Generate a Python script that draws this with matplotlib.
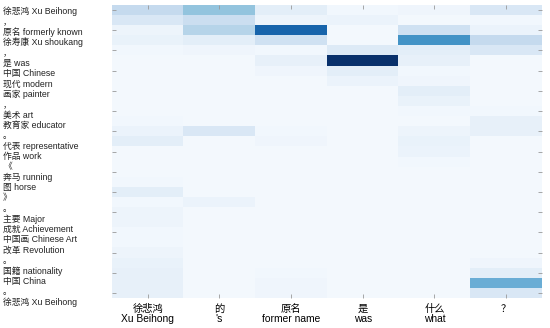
import numpy as np
import matplotlib
matplotlib.use("Agg")
import matplotlib.pyplot as plt

plt.rcParams['font.family'] = ['Liberation Sans', 'Noto Sans CJK SC', 'DejaVu Sans']

source_labels = [
    "徐悲鸿 Xu Beihong", "，", "原名 formerly known", "徐寿康 Xu shoukang", "，",
    "是 was", "中国 Chinese", "现代 modern", "画家 painter", "，",
    "美术 art", "教育家 educator", "。", "代表 representative", "作品 work",
    "《", "奔马 running", "图 horse", "》", "。",
    "主要 Major", "成就 Achievement", "中国画 Chinese Art", "改革 Revolution", "。",
    "国籍 nationality", "中国 China", "。", "徐悲鸿 Xu Beihong",
]

target_labels = ["徐悲鸿\nXu Beihong", "的\n's", "原名\nformer name", "是\nwas", "什么\nwhat", "？"]

# attention weights: one row per source token, one column per target token
w_xubeihong = [0.25, 0.15, 0.05, 0.07, 0.03, 0.02, 0.02, 0.02, 0.02, 0.02,
               0.02, 0.03, 0.06, 0.10, 0.02, 0.02, 0.02, 0.03, 0.10, 0.03,
               0.05, 0.05, 0.03, 0.03, 0.05, 0.07, 0.08, 0.08, 0.08]
w_de = [0.40, 0.22, 0.30, 0.10, 0.04, 0.02, 0.02, 0.02, 0.02, 0.02,
        0.02, 0.02, 0.15, 0.02, 0.02, 0.02, 0.02, 0.02, 0.02, 0.06,
        0.02, 0.02, 0.02, 0.02, 0.02, 0.02, 0.02, 0.02, 0.02]
w_former = [0.10, 0.05, 0.80, 0.20, 0.03, 0.08, 0.04, 0.02, 0.02, 0.02,
            0.02, 0.02, 0.03, 0.04, 0.02, 0.02, 0.02, 0.02, 0.02, 0.02,
            0.02, 0.02, 0.02, 0.02, 0.02, 0.02, 0.03, 0.04, 0.04]
w_was = [0.03, 0.06, 0.02, 0.02, 0.13, 1.00, 0.10, 0.06, 0.02, 0.02,
         0.02, 0.02, 0.02, 0.02, 0.02, 0.02, 0.02, 0.02, 0.02, 0.02,
         0.02, 0.02, 0.02, 0.02, 0.02, 0.02, 0.02, 0.02, 0.02]
w_what = [0.04, 0.02, 0.20, 0.62, 0.10, 0.08, 0.03, 0.04, 0.10, 0.07,
          0.03, 0.02, 0.05, 0.07, 0.06, 0.03, 0.02, 0.02, 0.02, 0.02,
          0.02, 0.02, 0.02, 0.02, 0.02, 0.02, 0.02, 0.02, 0.02]
w_q = [0.15, 0.03, 0.06, 0.25, 0.15, 0.02, 0.02, 0.02, 0.02, 0.02,
       0.03, 0.08, 0.08, 0.02, 0.02, 0.02, 0.02, 0.02, 0.02, 0.02,
       0.02, 0.02, 0.02, 0.02, 0.02, 0.04, 0.10, 0.50, 0.15]

weights = np.column_stack([w_xubeihong, w_de, w_former, w_was, w_what, w_q])

fig = plt.figure(figsize=(5.5, 3.28), dpi=100)
ax = fig.add_axes([112 / 550, 1 - 298 / 328, 430 / 550, 293 / 328])
ax.imshow(weights, cmap="Blues", vmin=0, vmax=1, aspect="auto", interpolation="nearest")

for s in ax.spines.values():
    s.set_visible(False)

n_rows, n_cols = weights.shape
tick_color = "#999999"

# x ticks (inside, top and bottom)
ax.set_xticks(np.arange(n_cols))
ax.set_xticklabels(target_labels, fontsize=7.4, linespacing=1.1)
ax.tick_params(axis="x", direction="in", length=3, width=0.6, color=tick_color,
               top=True, bottom=True, pad=4)

# y ticks at even rows (inside, left and right), labels drawn as text
ax.set_yticks(np.arange(0, n_rows, 2))
ax.set_yticklabels([])
ax.tick_params(axis="y", direction="in", length=3, width=0.6, color=tick_color,
               left=True, right=True)

row_px = 293 / n_rows
label_step = 291 / (n_rows - 1)
trans = ax.get_yaxis_transform()
for i, lab in enumerate(source_labels):
    py = 11 + label_step * i
    yd = (py - 5) / row_px - 0.5
    ax.text((3 - 112) / 430, yd, lab, transform=trans, ha="left", va="center",
            fontsize=6.3, color="#222222", clip_on=False)

fig.savefig("out.png", dpi=100)
